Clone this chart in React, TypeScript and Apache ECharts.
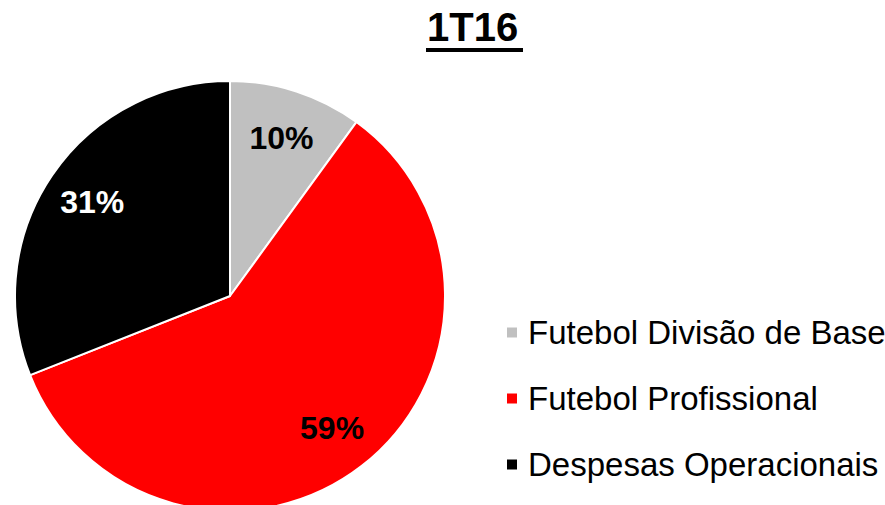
import React, { useEffect, useRef } from "react";
import * as echarts from "echarts";

const categories = ["Futebol Divisão de Base", "Futebol Profissional", "Despesas Operacionais"];
const values = [10, 59, 31];
const colors = ["#C0C0C0", "#FF0000", "#000000"];
const labelColors = ["#000000", "#000000", "#FFFFFF"];
const titleText = "1T16";

export default function App() {
  const ref = useRef<HTMLDivElement>(null);
  useEffect(() => {
    document.body.style.margin = "0";
    const chart = echarts.init(ref.current!, null, { renderer: "svg" });
    const font = "'Liberation Sans', Arial, sans-serif";
    const data = categories.map((name, i) => ({
      name,
      value: values[i],
      itemStyle: { color: colors[i] },
    }));
    const labelData = categories.map((name, i) => ({
      name,
      value: values[i],
      label: { color: labelColors[i] },
    }));
    chart.setOption({
      animation: false,
      title: {
        text: titleText,
        left: 427,
        top: 7,
        padding: 0,
        textStyle: { fontFamily: font, fontWeight: "bold", fontSize: 40, color: "#000" },
      },
      graphic: [
        { type: "rect", shape: { x: 426, y: 48, width: 97, height: 4 }, style: { fill: "#000" } },
      ],
      legend: {
        orient: "vertical",
        left: 505,
        top: 315,
        padding: 0,
        icon: "rect",
        itemWidth: 12,
        itemHeight: 12,
        itemGap: 31,
        data: categories,
        textStyle: { fontFamily: font, fontSize: 33, color: "#000", lineHeight: 35, padding: [0, 0, 0, 5] },
      },
      series: [
        {
          type: "pie",
          center: [230, 296],
          radius: 215,
          startAngle: 90,
          clockwise: true,
          silent: true,
          data,
          itemStyle: { borderColor: "#fff", borderWidth: 2 },
          label: { show: false },
          labelLine: { show: false },
        },
        {
          type: "pie",
          center: [230, 296],
          radius: [112, 215],
          startAngle: 90,
          clockwise: true,
          silent: true,
          data: labelData,
          itemStyle: { color: "transparent" },
          label: {
            show: true,
            position: "inside",
            formatter: "{c}%",
            fontFamily: font,
            fontWeight: "bold",
            fontSize: 32,
          },
          labelLine: { show: false },
        },
      ],
    });
    return () => chart.dispose();
  }, []);
  return <div ref={ref} style={{ width: 885, height: 505 }} />;
}
